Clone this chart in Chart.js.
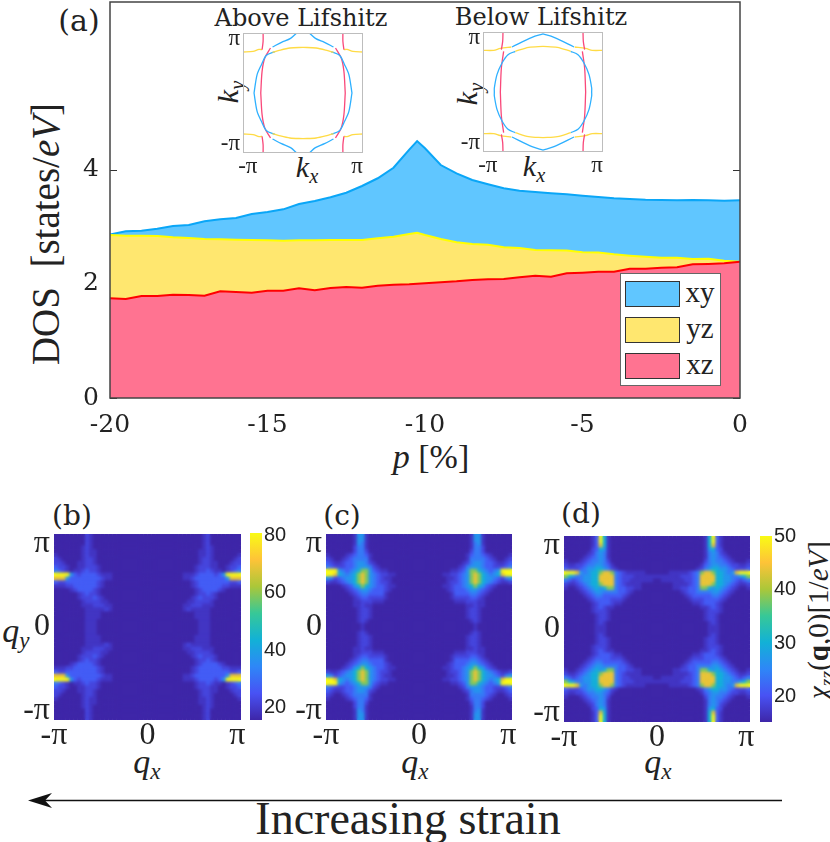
<!DOCTYPE html>
<html><head><meta charset="utf-8">
<script src="https://cdn.jsdelivr.net/npm/chart.js@4/dist/chart.umd.min.js"></script>
<style>
html,body{margin:0;padding:0;background:#fff;width:830px;height:842px;overflow:hidden}
canvas{position:absolute;display:block}
.t{position:absolute;transform:translate(-50%,-50%);white-space:nowrap;color:#222;font-family:"Liberation Serif",serif;line-height:1}
.s{font-family:"DejaVu Serif",serif}
i sub,.t sub{font-size:.68em;vertical-align:-.28em;line-height:0}
.sw{position:absolute;left:625px;width:55px;height:26px;border:1px solid #333;box-sizing:border-box}
</style></head><body>
<div class="t s" style="left:79px;top:21px;font-size:30px">(a)</div>
<div class="t s" style="left:301px;top:18px;font-size:24px">Above Lifshitz</div>
<div class="t s" style="left:541px;top:17px;font-size:24px">Below Lifshitz</div>
<div class="t" style="left:45px;top:234px;font-size:39px;transform:translate(-50%,-50%) rotate(-90deg)">DOS&nbsp;&nbsp;[states/<i>eV</i>]</div>
<div class="t" style="left:431px;top:457px;font-size:34px"><i>p</i> [%]</div>
<div class="t" style="left:307px;top:167px;font-size:30px"><i>k<sub>x</sub></i></div>
<div class="t" style="left:228px;top:92px;font-size:30px;transform:translate(-50%,-50%) rotate(-90deg)"><i>k<sub>y</sub></i></div>
<div class="t" style="left:534px;top:166px;font-size:30px"><i>k<sub>x</sub></i></div>
<div class="t" style="left:467px;top:94px;font-size:30px;transform:translate(-50%,-50%) rotate(-90deg)"><i>k<sub>y</sub></i></div>
<div class="t s" style="left:72px;top:516px;font-size:28px">(b)</div>
<div class="t s" style="left:342px;top:516px;font-size:28px">(c)</div>
<div class="t s" style="left:581px;top:514px;font-size:28px">(d)</div>
<div class="t" style="left:147px;top:762px;font-size:34px"><i>q<sub>x</sub></i></div>
<div class="t" style="left:415px;top:762px;font-size:34px"><i>q<sub>x</sub></i></div>
<div class="t" style="left:658px;top:762px;font-size:34px"><i>q<sub>x</sub></i></div>
<div class="t" style="left:16px;top:631px;font-size:34px"><i>q<sub>y</sub></i></div>
<div class="t" style="left:818px;top:620px;font-size:29px;transform:translate(-50%,-50%) rotate(-90deg)"><i>χ<sub>zz</sub></i>(<b>q</b>,0)[1/<i>eV</i>]</div>
<div class="t" style="left:408px;top:819px;font-size:46px">Increasing strain</div>
<svg style="position:absolute;left:0;top:0" width="830" height="842"><line x1="782" y1="800.5" x2="34" y2="800.5" stroke="#111" stroke-width="1.6"/><path d="M28 800.5 L52 793 L45 800.5 L52 808 Z" fill="#111"/></svg>

<script>
// ---- panel (a): density of states
const strainPct=[-20,-19.5,-19,-18.5,-18,-17.5,-17,-16.5,-16,-15.5,-15,-14.5,-14,-13.5,-13,-12.5,-12,-11.5,-11,-10.5,-10.25,-10,-9.5,-9,-8.5,-8,-7.5,-7,-6.5,-6,-5.5,-5,-4.5,-4,-3.5,-3,-2.5,-2,-1.5,-1,-0.5,0];
const dosXz=[1.745,1.734,1.786,1.786,1.81,1.804,1.79,1.868,1.856,1.845,1.88,1.88,1.92,1.886,1.926,1.944,1.932,1.967,1.985,1.99,2.0,2.008,2.026,2.043,2.067,2.078,2.084,2.114,2.142,2.125,2.183,2.195,2.212,2.212,2.265,2.265,2.283,2.288,2.341,2.347,2.358,2.388];
const dosYz=[2.855,2.843,2.843,2.837,2.814,2.802,2.785,2.779,2.773,2.767,2.761,2.755,2.761,2.761,2.767,2.767,2.767,2.796,2.825,2.872,2.895,2.855,2.785,2.726,2.697,2.685,2.639,2.627,2.592,2.586,2.581,2.551,2.546,2.516,2.493,2.475,2.458,2.458,2.434,2.44,2.405,2.388];
const dosXy=[2.861,2.919,2.93,2.966,3.012,3.03,3.094,3.13,3.152,3.222,3.257,3.304,3.398,3.45,3.515,3.595,3.713,3.848,4.032,4.35,4.50,4.373,4.08,3.935,3.818,3.742,3.672,3.63,3.608,3.585,3.567,3.543,3.52,3.497,3.485,3.473,3.468,3.462,3.468,3.462,3.455,3.462];
const orbitals=["xz","yz","xy"];
const dosTicksX=[-20,-15,-10,-5,0];
const dosTicksY=[0,2,4];
// ---- Fermi surface insets: one quadrant of each sheet, mirrored (units of pi)
const fsAbove={
 redOuter:[[-.665,1],[-.665,.861],[-.682,.722]],
 yellowOuter:[[-1,.683],[-.832,.694],[-.732,.728],[-.682,.722]],
 blueOuter:[[-.106,1],[-.207,.911],[-.358,.844],[-.508,.767]],
 yellowInner:[[0,.761],[-.218,.75],[-.413,.706],[-.508,.678]],
 blueInner:[[-.469,.689],[-.609,.628],[-.693,.472],[-.765,.306],[-.816,0]],
 redInner:[[-.542,.75],[-.637,.583],[-.682,.361],[-.704,0]]};
const fsBelow={
 redOuter:[[-.667,1],[-.672,.844],[-.694,.706]],
 yellowOuter:[[-1,.694],[-.822,.694],[-.711,.728],[-.528,.75]],
 blueOuter:[[0,.967],[-.183,.911],[-.517,.75]],
 yellowInner:[[0,.761],[-.239,.744],[-.461,.678]],
 blueInner:[[-.461,.678],[-.583,.622],[-.683,.483],[-.767,.289],[-.811,.067],[-.811,0]],
 redInner:[[-.656,.678],[-.694,.4],[-.711,0]]};
// ---- susceptibility maps: upper-left quadrant, one character per cell (level 0-9)
const chiB=[
"000000002100000000000000","000000002100000000000000","000000002100000000000000","000000012100000000000000",
"000000012110000000000000","100000012110000000000000","210000012210000000000000","221000112210000000000000",
"322100112221000000000000","432101123221000000000000","999953233332111000000000","888533333333211000000000",
"322333333332100000000000","111223333332100000000000","000012333321000000000000","000000123221000000000000",
"000000122232100000000000","000000012222110000000000","000000011122211000000000","000000001111121000000000",
"000000001111000000000000","000000001111000000000000","000000001110000000000000","000000001110000000000000"];
const chiC=[
"000000015510000000000000","000000015510000000000000","000000015410000000000000","000000024410000000000000",
"000000024420000000000000","100001234431000000000000","210012344441000000000000","321123345542100000000000",
"432223345554210000000000","999543456775321100000000","998654567875432211000000","542345567875432110000000",
"211234567875432210000000","000012356765433211000000","000001234554333210000000","000000123443333100000000",
"000000012332222100000000","000000011222111000000000","000000011211000000000000","000000001221000000000000",
"000000001221000000000000","000000001221000000000000","000000001210000000000000","000000000100000000000000"];
const chiD=[
"000000013961000000000000","000000013961000000000000","000000013861000000000000","000000023651000000000000",
"000000124541000000000000","000001234541000000000000","100012344542000000000000","211223445543100000000000",
"322234556654210000000000","999854566788743211111000","765445566888843222111111","432345566888843221111110",
"211234566788843211110000","100123456567743322110000","000012345544443321000000","000001234433333210000000",
"000000123333222100000000","000000012333211000000000","000000012321100000000000","000000012221000000000000",
"000000001221000000000000","000000001221000000000000","000000001210000000000000","000000001110000000000000"];
const levelFractions=[0,.05,.1,.17,.25,.33,.42,.66,.82,1];
const rangeB=[15.8,80.7], rangeD=[15.3,50];
const cbTicksB=[20,40,60,80], cbTicksD=[20,30,40,50];
const qTicksX=[-1,0,.96], qTicksY=[.9,0,-.9];
const parula=[[62,38,168],[72,82,244],[46,135,247],[18,177,214],[55,200,151],[171,199,57],[254,195,56],[249,251,21]];

function pcolor(f){f=Math.max(0,Math.min(1,f))*(parula.length-1);const i=Math.min(parula.length-2,Math.floor(f)),t=f-i;
 const c=parula[i].map((a,k)=>Math.round(a+(parula[i+1][k]-a)*t));return `rgb(${c[0]},${c[1]},${c[2]})`;}
function place(plot,m){const c=document.createElement('canvas');c.width=plot.w+m.l+m.r;c.height=plot.h+m.t+m.b;
 c.style.left=(plot.x-m.l)+'px';c.style.top=(plot.y-m.t)+'px';document.body.appendChild(c);return c;}
function axis(common,size,isX,vals,label){return Object.assign({type:'linear',offset:false,
 afterFit(s){if(isX)s.height=size;else s.width=size;s.paddingLeft=s.paddingRight=s.paddingTop=s.paddingBottom=0;},
 afterBuildTicks(s){if(vals)s.ticks=vals.map(v=>({value:v}));},
 grid:{display:false,drawTicks:false,tickLength:0},border:{display:false}},common,{ticks:Object.assign({autoSkip:false,maxRotation:0,minRotation:0,color:'#222',
  callback:label||(v=>String(v))},common.ticks||{})});}
const base=(m)=>({responsive:false,animation:false,events:[],devicePixelRatio:1,
 layout:{padding:{top:m.t,right:m.r,left:0,bottom:0}},plugins:{legend:{display:false},tooltip:{enabled:false}}});
const piLabel=v=>v===0?'0':(v<0?'-π':'π');

// main chart
{const plot={x:110,y:2,w:630,h:396},m={l:110,t:2,r:30,b:50};
 const order=[dosXz,dosYz,dosXy];
 const fills=['#ff7391','#ffe76f','#60c6ff'],lines=['#ff0000','#ffff00','#0aa6f7'];
 new Chart(place(plot,m),{type:'line',data:{datasets:order.map((arr,i)=>({label:orbitals[i],
   data:arr.map((y,k)=>({x:strainPct[k],y})),fill:'origin',backgroundColor:fills[i],borderColor:lines[i],borderWidth:2,pointRadius:0,tension:0}))},
  options:Object.assign(base(m),{scales:{
   x:axis({min:-20,max:0,ticks:{font:{family:'DejaVu Serif',size:25},padding:12}},m.b,true,dosTicksX),
   y:axis({min:0,max:6.935,ticks:{font:{family:'DejaVu Serif',size:25},padding:11}},m.l,false,dosTicksY)}}),
  plugins:[{id:'frame',beforeDatasetsDraw(ch){const a=ch.chartArea,c=ch.ctx,s=ch.scales.y;c.save();c.strokeStyle='#333';c.lineWidth=1;
    dosTicksY.forEach(v=>{const y=Math.round(s.getPixelForValue(v))+.5;c.beginPath();c.moveTo(a.left,y);c.lineTo(a.left+7,y);c.moveTo(a.right,y);c.lineTo(a.right-7,y);c.stroke();});c.restore();},
   afterDraw(ch){const a=ch.chartArea,c=ch.ctx;c.save();c.lineWidth=1.5;c.strokeStyle='#444';c.strokeRect(a.left,a.top,a.right-a.left,a.bottom-a.top);c.restore();}}]});
 const lg=document.createElement('div');lg.style.cssText='position:absolute;left:620px;top:273px;width:101px;height:113px;background:#fff;border:1px solid #666;box-sizing:border-box';document.body.appendChild(lg);
 [[2,281],[1,317],[0,352.5]].forEach(([i,y])=>{const s=document.createElement('div');s.className='sw';s.style.top=y+'px';s.style.background=fills[i];document.body.appendChild(s);
  const t=document.createElement('div');t.className='t';t.textContent=orbitals[i];t.style.cssText=`left:700px;top:${y+11}px;font-size:29px`;document.body.appendChild(t);});
}
// insets
const sheetColors={redOuter:'#f9487a',redInner:'#f9487a',yellowOuter:'#ffdb45',yellowInner:'#ffdb45',blueOuter:'#2eb0ff',blueInner:'#2eb0ff'};
function inset(plot,fs){const m={l:30,t:8,r:12,b:26};const ds=[];
 Object.keys(fs).forEach(k=>{[[1,1],[-1,1],[1,-1],[-1,-1]].forEach(([a,b])=>{
  const pts=fs[k].map(p=>({x:a*p[0],y:b*p[1]}));
  ds.push({data:pts,showLine:true,pointRadius:0,borderColor:sheetColors[k],borderWidth:1.3,tension:.3});});});
 const f={family:'Liberation Serif',size:23};
 new Chart(place(plot,m),{type:'scatter',data:{datasets:ds},options:Object.assign(base(m),{scales:{
  x:axis({min:-1,max:1,ticks:{font:f,padding:0}},m.b,true,[-.92,.9],v=>v<0?'-π':'π'),
  y:axis({min:-1,max:1,ticks:{font:f,padding:3}},m.l,false,[.9,-.85],v=>v<0?'-π':'π')}}),
  plugins:[{id:'box',afterDraw(ch){const a=ch.chartArea,c=ch.ctx;c.save();c.strokeStyle='#bdbdbd';c.lineWidth=1;c.strokeRect(a.left+.5,a.top+.5,a.right-a.left-1,a.bottom-a.top-1);c.restore();}}]});}
inset({x:243,y:33,w:120,h:120},fsAbove);
inset({x:483,y:32,w:120,h:120},fsBelow);

// heat maps
function heat(plot,rows,range){const m={l:50,t:4,r:6,b:36};const pts=[],cols=[];const n=rows.length,step=1/n;
 [1,-1].forEach(sy=>[1,-1].forEach(sx=>{rows.forEach((r,ri)=>{[...r].forEach((ch,ci)=>{
   const f=levelFractions[+ch];const value=range[0]+f*(range[1]-range[0]);
   pts.push({x:sx*(-1+(ci+.5)*step),y:sy*(1-(ri+.5)*step),v:value});cols.push(pcolor(f));});});}));
 const f={family:'Liberation Serif',size:32};
 new Chart(place(plot,m),{type:'scatter',data:{datasets:[{data:pts,pointStyle:'rect',pointRadius:3,pointBorderWidth:0,borderWidth:0,backgroundColor:cols,pointBackgroundColor:cols}]},
  options:Object.assign(base(m),{scales:{
   x:axis({min:-1,max:1,ticks:{font:f,padding:-4,color:'#222'}},m.b,true,qTicksX,piLabel),
   y:axis({min:-1,max:1,ticks:{font:f,padding:4,color:'#222'}},m.l,false,qTicksY,piLabel)}}),
  plugins:[{id:'soft',afterDatasetsDraw(ch){const a=ch.chartArea,c=ch.ctx,w=a.right-a.left,h=a.bottom-a.top;c.save();c.beginPath();c.rect(a.left,a.top,w,h);c.clip();
    c.filter='blur(1.6px)';c.drawImage(c.canvas,a.left,a.top,w,h,a.left,a.top,w,h);c.restore();}}]});}
heat({x:54,y:534,w:187,h:186},chiB,rangeB);
heat({x:326,y:534,w:186,h:186},chiC,rangeD);
heat({x:564,y:536,w:186,h:186},chiD,rangeD);

// colour bars
function cbar(plot,range,ticks){const m={l:0,t:10,r:34,b:10};
 const cfg={type:'scatter',data:{datasets:[{data:[{x:0,y:range[0]},{x:0,y:range[1]}],showLine:true,pointRadius:0,borderWidth:plot.w,borderColor:'#3e26a8'}]},
  options:Object.assign(base(m),{layout:{padding:{top:m.t,right:0,left:0,bottom:m.b}},scales:{
   x:{type:'linear',min:-1,max:1,display:false},
   y:axis({position:'right',min:range[0],max:range[1],ticks:{font:{family:'Liberation Sans',size:20},padding:2}},m.r,false,ticks)}}),
  plugins:[{id:'ramp',afterLayout(ch){const a=ch.chartArea,g=ch.ctx.createLinearGradient(0,a.bottom,0,a.top);
    parula.forEach((c,i)=>g.addColorStop(i/(parula.length-1),`rgb(${c})`));ch.data.datasets[0].borderColor=g;}}]};
 new Chart(place(plot,m),cfg);}
cbar({x:250,y:533,w:12,h:187},rangeB,cbTicksB);
cbar({x:760,y:536,w:12,h:186},rangeD,cbTicksD);
</script>
</body></html>
